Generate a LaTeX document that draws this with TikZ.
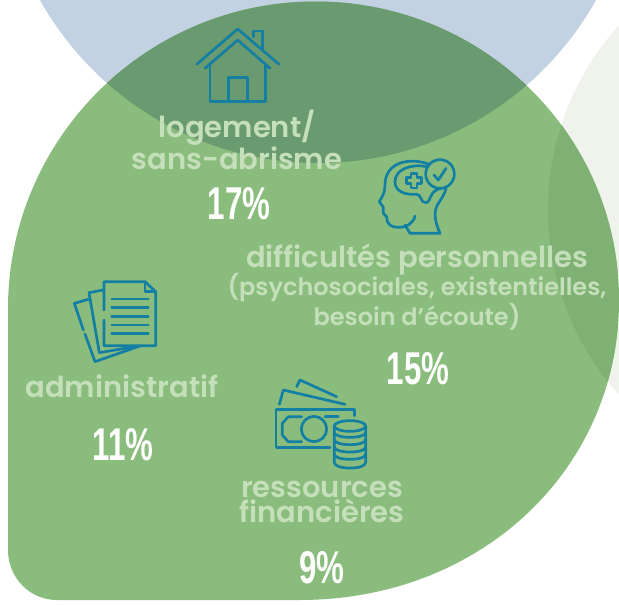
\documentclass[tikz,border=0pt]{standalone}
\usepackage{fontspec}
\setmainfont{Poppins}[BoldFont={Poppins SemiBold}]
\newfontfamily\numfont{Liberation Sans}
\definecolor{bluecirc}{HTML}{C3D2E2}
\definecolor{greenblob}{HTML}{8ABD7D}
\definecolor{overlapc}{HTML}{6A9A70}
\definecolor{palec}{HTML}{EFF3EC}
\definecolor{overlapp}{HTML}{7FB174}
\definecolor{iconc}{HTML}{137FA3}
\definecolor{labelc}{HTML}{C4DFBA}
\tikzset{
 icon/.style={draw=iconc,line width=2.7pt,line cap=round,line join=round},
 biglabel/.style={text=labelc,font=\fontsize{29}{25}\selectfont\bfseries,align=center,inner sep=0pt},
 smalllabel/.style={text=labelc,font=\fontsize{24}{26}\selectfont\bfseries,align=center,inner sep=0pt},
 pct/.style={text=white,inner sep=0pt,font=\numfont\bfseries\fontsize{46}{46}\selectfont},
}
\def\blobpath{(8,309) .. controls (8,139) and (146,1.5) .. (315.5,1.5) .. controls (483,1.5) and (619,135) .. (619,300) .. controls (619,470) and (480,600) .. (300,600) -- (57,600) .. controls (30,600) and (8,578) .. (8,550) -- cycle}
\begin{document}
\begin{tikzpicture}[x=1pt,y=-1pt]
\useasboundingbox (0,0) rectangle (619,605);
\fill[white] (0,0) rectangle (619,605);
\begin{scope}
\clip (0,0) rectangle (619,605);
\fill[bluecirc] (318,-155.6) circle[radius=318.6];
\fill[palec] (824,210) circle[radius=276];
\fill[greenblob] \blobpath;
\begin{scope}
\clip \blobpath;
\fill[overlapc] (318,-155.6) circle[radius=318.6];
\fill[overlapp] (824,210) circle[radius=276];
\end{scope}
\end{scope}
% house
\draw[icon] (196.7,64.3) -- (237.7,29) -- (279,64.3);
\draw[icon] (205,68.3) -- (237.7,40) -- (270,68.3);
\draw[icon] (210,65) -- (210,101.7) -- (265.7,101.7) -- (265.7,65);
\draw[icon] (228.3,101.7) -- (228.3,77.7) -- (247.7,77.7) -- (247.7,101.7);
\draw[icon] (253.3,36.7) -- (253.3,31) -- (262.7,31) -- (262.7,50);
% head
\begin{scope}[shift={(360,150)},scale=1/3]
\draw[icon] (205,42) .. controls (150,22) and (75,35) .. (75,105) .. controls (75,125) and (70,135) .. (58,155) -- (70,172) -- (70,190) -- (80,200) .. controls (80,225) and (95,232) .. (115,232) .. controls (140,232) and (160,220) .. (165,198);
\draw[icon] (135,225) -- (150,250) -- (240,250) .. controls (225,215) and (220,190) .. (232,165) .. controls (245,145) and (255,130) .. (258,115);
\draw[icon] (200,50) .. controls (150,40) and (105,60) .. (105,95) .. controls (105,125) and (135,135) .. (170,133) .. controls (185,133) and (180,158) .. (197,158) .. controls (215,158) and (205,120) .. (245,115);
\draw[icon] (240,72) circle[radius=43];
\draw[icon] (222,75) -- (235,90) -- (258,55);
\draw[icon] (153,70) -- (171,70) -- (171,83) -- (184,83) -- (184,101) -- (171,101) -- (171,114) -- (153,114) -- (153,101) -- (140,101) -- (140,83) -- (153,83) -- cycle;
\end{scope}
% documents
\begin{scope}[shift={(60,270)},scale=1/3]
\draw[icon] (132,120) -- (132,35) -- (255,35) -- (287,65) -- (287,227) -- (132,227) -- (132,150);
\draw[icon] (255,35) -- (255,65) -- (287,65);
\foreach \yy in {87,113,139,165,191} \draw[icon] (155,\yy) -- (265,\yy);
\draw[icon] (130,60) -- (87,68) -- (118,248) -- (225,230);
\draw[icon] (85,88) -- (43,100) -- (70,180);
\draw[icon] (75,192) -- (105,275) -- (240,228);
\end{scope}
% money
\begin{scope}[shift={(265,375)},scale=1/3]
\draw[icon] (268,122) -- (268,103) -- (33,103) -- (33,218) -- (195,218);
\draw[icon] (110,125) -- (70,125) -- (52,145) -- (52,180) -- (70,200) -- (110,200);
\draw[icon] (180,125) -- (220,125);
\draw[icon] (147,162) circle[radius=38];
\draw[icon] (43,88) -- (55,45) -- (240,88);
\draw[icon] (95,35) -- (105,15) -- (215,65);
\draw[icon] (255,153) ellipse[x radius=47,y radius=16];
\draw[icon] (208,153) -- (208,262) .. controls (208,285) and (302,285) .. (302,262) -- (302,153);
\foreach \yy in {172,194,216,238} \draw[icon] (208,\yy) .. controls (208,\yy+20) and (302,\yy+20) .. (302,\yy);
\end{scope}
% labels
\node[biglabel] (log) at (237,140) {logement/\\sans-abrisme};
\node[pct] (p17) at (239,204) {\scalebox{.68}[1]{17\%}};
\node[biglabel] (dif) at (417,260) {difficultés personnelles};
\node[smalllabel] (psy) at (417,302) {(psychosociales, existentielles,\\besoin d’écoute)};
\node[pct] (p15) at (418,369) {\scalebox{.68}[1]{15\%}};
\node[biglabel] (adm) at (122,386) {administratif};
\node[pct] (p11) at (123,445) {\scalebox{.68}[1]{11\%}};
\node[biglabel] (res) at (322,502) {ressources\\financières};
\node[pct] (p9) at (322,568) {\scalebox{.68}[1]{9\%}};
\end{tikzpicture}
\end{document}
